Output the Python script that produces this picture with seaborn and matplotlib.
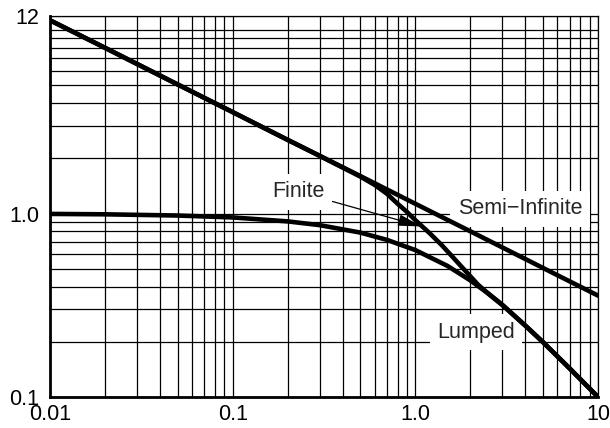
import numpy as np
import pandas as pd
import matplotlib
matplotlib.use("Agg")
import matplotlib.pyplot as plt
from matplotlib.ticker import LogLocator, FixedLocator, FixedFormatter, NullFormatter
import seaborn as sns

# ---- data ----
x_semi = [0.01, 0.02, 0.05, 0.1, 0.2, 0.5, 1.0, 2.0, 5.0, 10.0]
y_semi = [11.3, 8.0, 5.05, 3.57, 2.52, 1.60, 1.13, 0.80, 0.505, 0.357]

x_lumped = [0.01, 0.02, 0.05, 0.1, 0.2, 0.3, 0.5, 0.7, 1.0, 1.5, 2.0, 2.5, 3.0, 4.0, 5.0, 7.0, 10.0]
y_lumped = [0.995, 0.99, 0.975, 0.952, 0.906, 0.864, 0.787, 0.718, 0.632, 0.518, 0.432, 0.367, 0.317, 0.245, 0.199, 0.143, 0.100]

x_finite = [0.01, 0.02, 0.05, 0.1, 0.2, 0.3, 0.4, 0.5, 0.6, 0.7, 0.8, 0.9, 1.0, 1.2, 1.4, 1.6,
            1.8, 2.0, 2.2, 2.5, 3.0, 4.0, 5.0, 7.0, 10.0]
y_finite = [11.3, 8.0, 5.05, 3.57, 2.52, 2.06, 1.78, 1.59, 1.43, 1.28, 1.13, 1.02, 0.92, 0.78, 0.67, 0.58,
            0.51, 0.455, 0.41, 0.367, 0.317, 0.245, 0.199, 0.143, 0.100]

x_ticks = [0.01, 0.1, 1.0, 10]
x_ticklabels = ["0.01", "0.1", "1.0", "10"]
y_ticks = [0.1, 1.0, 12]
y_ticklabels = ["0.1", "1.0", "12"]

labels = ["Finite", "Semi\u2212Infinite", "Lumped"]

df = pd.concat([
    pd.DataFrame({"x": x_semi, "y": y_semi, "curve": "Semi-Infinite"}),
    pd.DataFrame({"x": x_lumped, "y": y_lumped, "curve": "Lumped"}),
    pd.DataFrame({"x": x_finite, "y": y_finite, "curve": "Finite"}),
], ignore_index=True)

sns.set_theme(style="white")
plt.rcParams["font.family"] = ["Liberation Sans", "DejaVu Sans"]

FS = 15.5

fig = plt.figure(figsize=(6.1, 4.28), dpi=100)
ax = fig.add_axes([50 / 610, 31 / 428, 548 / 610, 381.5 / 428])

sns.lineplot(data=df, x="x", y="y", hue="curve",
             palette={"Semi-Infinite": "black", "Lumped": "black", "Finite": "black"},
             linewidth=3.3, legend=False, estimator=None, sort=True, ax=ax, zorder=3)

ax.set_xscale("log")
ax.set_yscale("log")
ax.set_xlim(0.01, 10)
ax.set_ylim(0.1, 12)

ax.xaxis.set_major_locator(FixedLocator(x_ticks))
ax.xaxis.set_major_formatter(FixedFormatter(x_ticklabels))
ax.yaxis.set_major_locator(FixedLocator(y_ticks))
ax.yaxis.set_major_formatter(FixedFormatter(y_ticklabels))
ax.xaxis.set_minor_locator(LogLocator(base=10, subs=np.arange(1, 10)))
ax.yaxis.set_minor_locator(LogLocator(base=10, subs=np.arange(1, 10)))
ax.xaxis.set_minor_formatter(NullFormatter())
ax.yaxis.set_minor_formatter(NullFormatter())

ax.set_axisbelow(True)
ax.grid(True, which="both", color="black", linewidth=0.9)
ax.tick_params(which="both", length=0, labelsize=FS, colors="black")
ax.tick_params(axis="y", pad=8)
ax.tick_params(axis="x", pad=5)
ax.set_xlabel("")
ax.set_ylabel("")

for side in ["left", "bottom"]:
    ax.spines[side].set_linewidth(2.0)
    ax.spines[side].set_color("black")
for side in ["top", "right"]:
    ax.spines[side].set_linewidth(0.9)
    ax.spines[side].set_color("black")

box = dict(boxstyle="square,pad=0.35", fc="white", ec="none")

ax.annotate(labels[0], xy=(1.08, 0.85), xytext=(0.23, 1.31),
            ha="center", va="center", fontsize=FS, bbox=box, zorder=2.5,
            arrowprops=dict(arrowstyle="-|>,head_length=0.9,head_width=0.22",
                            color="black", lw=0.9, mutation_scale=16,
                            shrinkA=0, shrinkB=0))
ax.text(3.74, 1.06, labels[1], ha="center", va="center", fontsize=FS, bbox=box, zorder=2.5)
ax.text(2.15, 0.225, labels[2], ha="center", va="center", fontsize=FS, bbox=box, zorder=2.5)

fig.savefig("out.png", dpi=100)
